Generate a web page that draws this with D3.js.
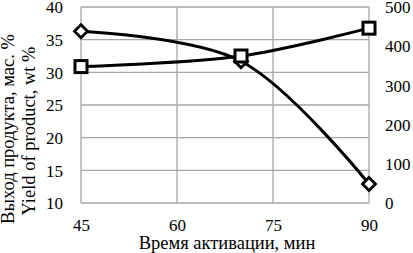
<!DOCTYPE html>
<html>
<head>
<meta charset="utf-8">
<script src="https://cdn.jsdelivr.net/npm/d3@7"></script>
<style>
  body { margin: 0; background: #fff; }
  text { font-family: "Liberation Serif", "Times New Roman", serif; }
</style>
</head>
<body>
<div id="chart"></div>
<script>
// activation time, min
const times = [45, 70, 90];
// yield of product, wt % (left axis, diamonds)
const yieldValues = [36.3, 31.7, 12.9];
// second series on the right axis (squares)
const rightValues = [348, 375, 446];

const xTicks = [45, 60, 75, 90];
const leftTicks = [10, 15, 20, 25, 30, 35, 40];
const rightTicks = [0, 100, 200, 300, 400, 500];

const W = 413, H = 253;
const margin = {top: 7, right: 44, bottom: 50, left: 81};
const width = W - margin.left - margin.right,
      height = H - margin.top - margin.bottom;

const svg = d3.select("#chart")
    .append("svg")
    .attr("width", W)
    .attr("height", H);

const g = svg.append("g")
    .attr("transform", `translate(${margin.left},${margin.top})`);

const x = d3.scaleLinear().domain([45, 90]).range([0, width]);
const yL = d3.scaleLinear().domain([10, 40]).range([height, 0]);
const yR = d3.scaleLinear().domain([0, 500]).range([height, 0]);

// grid
g.append("g")
    .selectAll("line")
    .data(leftTicks)
    .enter().append("line")
    .attr("x1", 0).attr("x2", width)
    .attr("y1", d => yL(d)).attr("y2", d => yL(d))
    .attr("stroke", "#a6a6a6").attr("stroke-width", 1.3);

g.append("g")
    .selectAll("line")
    .data(xTicks)
    .enter().append("line")
    .attr("x1", d => x(d)).attr("x2", d => x(d))
    .attr("y1", 0).attr("y2", height)
    .attr("stroke", "#a6a6a6").attr("stroke-width", 1.3);

// axes (labels only)
const axL = g.append("g")
    .call(d3.axisLeft(yL).tickValues(leftTicks).tickSize(0).tickPadding(18));
const axR = g.append("g")
    .attr("transform", `translate(${width},0)`)
    .call(d3.axisRight(yR).tickValues(rightTicks).tickSize(0).tickPadding(16));
const axB = g.append("g")
    .attr("transform", `translate(0,${height})`)
    .call(d3.axisBottom(x).tickValues(xTicks).tickSize(0).tickPadding(16));

[axL, axR, axB].forEach(a => {
    a.select(".domain").remove();
    a.selectAll("text")
        .attr("font-family", "Liberation Serif")
        .attr("font-size", 17)
        .attr("fill", "#000");
});
// keep the top labels inside the picture
axL.selectAll("text").attr("dy", "0.34em");
axR.selectAll("text").attr("dy", "0.34em");

// lines
const curve = d3.curveCatmullRom.alpha(0.5);

const lineL = d3.line()
    .x((d, i) => x(times[i]))
    .y(d => yL(d))
    .curve(curve);
const lineR = d3.line()
    .x((d, i) => x(times[i]))
    .y(d => yR(d))
    .curve(curve);

g.append("path")
    .datum(yieldValues)
    .attr("d", lineL)
    .attr("fill", "none")
    .attr("stroke", "#000")
    .attr("stroke-width", 3);

g.append("path")
    .datum(rightValues)
    .attr("d", lineR)
    .attr("fill", "none")
    .attr("stroke", "#000")
    .attr("stroke-width", 3);

// markers
g.selectAll(".diamond")
    .data(yieldValues)
    .enter().append("path")
    .attr("class", "diamond")
    .attr("d", "M0,-6.5L6.5,0L0,6.5L-6.5,0Z")
    .attr("transform", (d, i) => `translate(${x(times[i])},${yL(d)})`)
    .attr("fill", "#fff")
    .attr("stroke", "#000")
    .attr("stroke-width", 2.8);

g.selectAll(".square")
    .data(rightValues)
    .enter().append("rect")
    .attr("class", "square")
    .attr("x", (d, i) => x(times[i]) - 6)
    .attr("y", d => yR(d) - 6)
    .attr("width", 12)
    .attr("height", 12)
    .attr("fill", "#fff")
    .attr("stroke", "#000")
    .attr("stroke-width", 3);

// axis titles
svg.append("text")
    .attr("x", 227)
    .attr("y", 248.5)
    .attr("text-anchor", "middle")
    .attr("font-size", 18.5)
    .text("Время активации, мин");

svg.append("text")
    .attr("transform", "rotate(-90)")
    .attr("x", -129)
    .attr("y", 13.5)
    .attr("text-anchor", "middle")
    .attr("font-size", 18.5)
    .text("Выход продукта, мас. %");

svg.append("text")
    .attr("transform", "rotate(-90)")
    .attr("x", -131)
    .attr("y", 35)
    .attr("text-anchor", "middle")
    .attr("font-size", 18.5)
    .text("Yield of product, wt %");
</script>
</body>
</html>
